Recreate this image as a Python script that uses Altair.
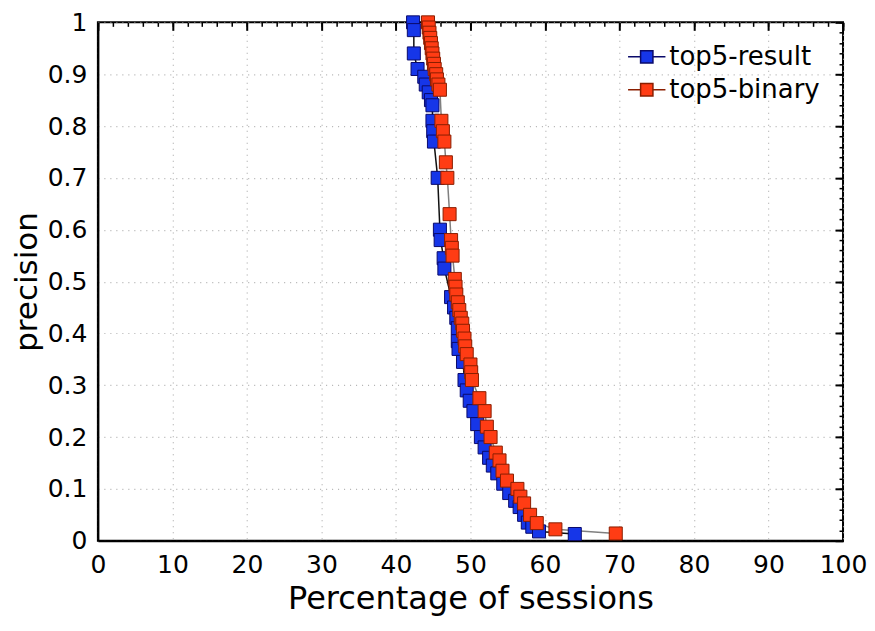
import altair as alt
import pandas as pd

# ---- data ----
blue_x = [42.3, 42.4, 42.4, 42.9, 43.8, 44.0, 44.4, 44.7, 44.9, 44.9, 45.0, 45.1, 45.6,
          45.9, 46.0, 46.4, 46.5, 47.4, 47.8, 48.1, 48.3, 48.3, 48.4, 49.0, 49.2, 49.5,
          49.9, 50.4, 50.9, 51.4, 51.9, 52.5, 53.0, 53.6, 54.4, 55.2, 56.0, 56.6, 57.2,
          57.7, 58.3, 59.2, 64.0]
blue_y = [1.00, 0.985, 0.94, 0.91, 0.895, 0.88, 0.865, 0.85, 0.84, 0.81, 0.79, 0.77, 0.70,
          0.60, 0.58, 0.545, 0.525, 0.47, 0.45, 0.43, 0.41, 0.385, 0.37, 0.345, 0.31, 0.29,
          0.27, 0.25, 0.225, 0.20, 0.18, 0.16, 0.145, 0.13, 0.11, 0.092, 0.077, 0.065, 0.05,
          0.035, 0.027, 0.018, 0.013]

red_x = [44.3, 44.4, 44.5, 44.6, 44.7, 44.8, 44.9, 45.0, 45.1, 45.2, 45.4, 45.5, 45.7, 45.9,
         46.1, 46.3, 46.5, 46.7, 46.9, 47.2, 47.4, 47.5, 47.6, 47.9, 48.0, 48.1, 48.3, 48.5,
         48.7, 48.9, 49.0, 49.2, 49.3, 49.5, 50.0, 50.1, 50.2, 51.2, 51.9, 52.2, 52.7, 53.4,
         53.9, 54.3, 54.9, 56.3, 56.7, 57.2, 58.0, 58.9, 61.4, 69.5]
red_y = [1.00, 0.99, 0.98, 0.97, 0.96, 0.95, 0.94, 0.93, 0.92, 0.91, 0.90, 0.89, 0.88, 0.87,
         0.81, 0.79, 0.77, 0.73, 0.70, 0.63, 0.58, 0.565, 0.55, 0.505, 0.49, 0.475, 0.46, 0.445,
         0.43, 0.419, 0.405, 0.39, 0.375, 0.36, 0.34, 0.325, 0.31, 0.275, 0.25, 0.22, 0.20, 0.17,
         0.155, 0.135, 0.116, 0.10, 0.085, 0.072, 0.05, 0.034, 0.022, 0.014]

series_names = ["top5-result", "top5-binary"]
x_major = list(range(0, 101, 10))
x_minor = list(range(0, 101, 2))
y_major = [round(i * 0.1, 2) for i in range(11)]
y_minor = [round(i * 0.02, 2) for i in range(51)]

rows = []
for i, (x, y) in enumerate(zip(blue_x, blue_y)):
    rows.append({"x": x, "y": y, "series": series_names[0], "idx": i})
for i, (x, y) in enumerate(zip(red_x, red_y)):
    rows.append({"x": x, "y": y, "series": series_names[1], "idx": i})
df = pd.DataFrame(rows)

FONT = "DejaVu Sans"
xs = alt.Scale(domain=[0, 100], nice=False, zero=False)
ys = alt.Scale(domain=[0, 1], nice=False, zero=False)

# main axes: labels, grid, domain
x_main = alt.Axis(values=x_major, title="Percentage of sessions", ticks=False, grid=True,
                  gridColor="#b0b0b0", gridDash=[1, 5], gridWidth=1.2,
                  labelFontSize=25, titleFontSize=32, labelFont=FONT, titleFont=FONT,
                  labelColor="black", titleColor="black", titleFontWeight="normal",
                  labelPadding=12, titlePadding=6, domainColor="black", domainWidth=2,
                  labelFlush=False)
y_main = alt.Axis(values=y_major, format="~g", title="precision", ticks=False, grid=True,
                  gridColor="#b0b0b0", gridDash=[1, 5], gridWidth=1.2,
                  labelFontSize=25, titleFontSize=31, labelFont=FONT, titleFont=FONT,
                  labelColor="black", titleColor="black", titleFontWeight="normal",
                  labelPadding=11, titlePadding=4, domainColor="black", domainWidth=2,
                  labelFlush=False)

lines = alt.Chart(df).mark_line(strokeWidth=1.5).encode(
    x=alt.X("x:Q", scale=xs, axis=x_main),
    y=alt.Y("y:Q", scale=ys, axis=y_main),
    stroke=alt.Stroke("series:N", scale=alt.Scale(domain=series_names, range=["#111111", "#808080"]),
                      legend=None),
    order="idx:Q",
)

# major ticks pointing inward
x_tick_major = alt.Axis(values=x_major, ticks=True, tickSize=8, offset=-8, labels=False, domain=False,
                        grid=False, title=None, tickColor="black", tickWidth=2)
y_tick_major = alt.Axis(values=y_major, ticks=True, tickSize=8, offset=-8, labels=False, domain=False,
                        grid=False, title=None, tickColor="black", tickWidth=2)

sym_path = "M-1,0H-0.33M0.33,0H1M-0.33,-0.33H0.33V0.33H-0.33Z"
points = alt.Chart(df).mark_point(shape="square", filled=True, size=170, opacity=1,
                                  strokeWidth=1).encode(
    x=alt.X("x:Q", scale=xs, axis=x_tick_major),
    y=alt.Y("y:Q", scale=ys, axis=y_tick_major),
    fill=alt.Fill("series:N", scale=alt.Scale(domain=series_names, range=["#1636e8", "#ff3c14"]),
                  legend=alt.Legend(title=None, orient="none", legendX=530, legendY=15,
                                    symbolType=sym_path, symbolSize=1400,
                                    symbolStrokeColor="#222222", symbolStrokeWidth=1.5,
                                    labelFontSize=26, labelFont=FONT, labelColor="black",
                                    labelLimit=300, rowPadding=-3, labelOffset=3)),
    stroke=alt.Stroke("series:N", scale=alt.Scale(domain=series_names, range=["#0a0a6a", "#8a1e00"]),
                      legend=None),
)

# minor ticks pointing inward
x_tick_minor = alt.Axis(values=x_minor, ticks=True, tickSize=4, offset=-4, labels=False, domain=False,
                        grid=False, title=None, tickColor="black", tickWidth=1.5)
y_tick_minor = alt.Axis(values=y_minor, ticks=True, tickSize=4, offset=-4, labels=False, domain=False,
                        grid=False, title=None, tickColor="black", tickWidth=1.5)

ghost = alt.Chart(df).mark_point(opacity=0).encode(
    x=alt.X("x:Q", scale=xs, axis=x_tick_minor),
    y=alt.Y("y:Q", scale=ys, axis=y_tick_minor),
)

chart = alt.layer(lines, ghost, points).resolve_scale(
    x="shared", y="shared", fill="independent", stroke="independent"
).resolve_axis(x="independent", y="independent").properties(
    width=746, height=519, background="white",
    padding={"left": 3, "top": 2, "right": 0, "bottom": 6}
).configure_view(stroke="black", strokeWidth=2)

chart.save("out.html", embed_options={"renderer": "svg", "actions": False})
